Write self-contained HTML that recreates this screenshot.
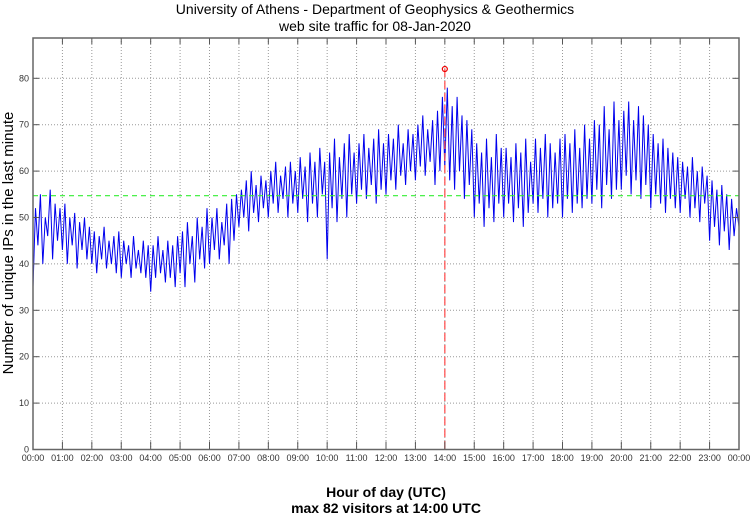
<!DOCTYPE html>
<html><head><meta charset="utf-8"><style>
body{margin:0;background:#fff;}
svg{display:block;font-family:"Liberation Sans",sans-serif;}
</style></head><body>
<svg id="chart" width="750" height="515" viewBox="0 0 750 515">
<text x="375" y="14" text-anchor="middle" font-size="14">University of Athens - Department of Geophysics &amp; Geothermics</text>
<text x="375" y="31" text-anchor="middle" font-size="14">web site traffic for 08-Jan-2020</text>
<text transform="translate(13,243) rotate(-90)" text-anchor="middle" font-size="15">Number of unique IPs in the last minute</text>
<text x="386" y="497" text-anchor="middle" font-size="14" font-weight="bold">Hour of day (UTC)</text>
<text x="386" y="513" text-anchor="middle" font-size="14" font-weight="bold">max 82 visitors at 14:00 UTC</text>
<g id="grid"></g><g id="series"></g><g id="axes"></g>
</svg>
<script>
const hourLabels=["00:00","01:00","02:00","03:00","04:00","05:00","06:00","07:00","08:00","09:00","10:00","11:00","12:00","13:00","14:00","15:00","16:00","17:00","18:00","19:00","20:00","21:00","22:00","23:00","00:00"];
const yTicks=[0,10,20,30,40,50,60,70,80];
const visitors=[
35,52,44,55,40,50,46,56,41,53,45,52,
43,53,40,50,44,51,39,49,43,50,41,48,
40,47,38,46,41,48,39,45,40,46,38,47,
37,45,40,44,37,46,39,43,38,45,37,44,
34,44,37,46,38,43,36,45,37,44,35,46,
38,47,35,49,40,46,36,50,41,48,39,52,
40,50,43,52,41,49,44,53,40,54,45,55,
48,56,50,58,47,60,51,57,49,59,52,58,
50,60,53,62,51,59,54,61,50,62,53,60,
51,63,54,61,49,64,53,62,50,65,55,62,
41,64,52,67,49,63,54,66,50,68,55,64,
53,66,56,68,54,65,57,67,53,69,56,66,
55,68,58,67,56,70,59,66,57,69,60,68,
58,70,61,72,59,69,62,71,57,73,60,76,
61,78,58,74,56,76,60,72,54,71,57,69,
50,66,53,64,48,67,52,63,49,68,53,65,
50,65,53,63,49,66,52,64,48,67,51,62,
53,67,51,65,54,68,50,66,52,64,53,67,
50,68,54,66,51,69,53,65,52,70,54,67,
53,71,56,70,52,74,57,69,54,75,56,71,
56,73,59,75,55,71,58,74,54,72,57,70,
52,68,55,66,53,67,51,65,54,64,52,63,
51,62,54,61,50,63,52,60,49,61,53,59,
45,58,48,56,44,57,47,55,43,54,46,52,48];
const avgValue=[54.7];
const peakValue=[82];
const peakHour=[14];
const X0=33,X1=739,Y0=449.5,YTOP=38;
const xH=h=>X0+(X1-X0)*h/24;
const yV=v=>Y0-v*4.64;
const NS="http://www.w3.org/2000/svg";
function mk(tag,attrs,parent){const e=document.createElementNS(NS,tag);for(const k in attrs)e.setAttribute(k,attrs[k]);parent.appendChild(e);return e;}
const grid=document.getElementById('grid'),axes=document.getElementById('axes'),series=document.getElementById('series');
mk('rect',{x:X0,y:YTOP,width:X1-X0,height:Y0-YTOP,fill:'#fff'},grid);
hourLabels.forEach((l,i)=>{const x=xH(i);
 if(i>0&&i<24){const g=mk('line',{x1:x,x2:x,y1:YTOP,y2:Y0,stroke:'#999','stroke-dasharray':'1,2'},grid);
 
 mk('line',{x1:x,x2:x,y1:YTOP,y2:YTOP+6,stroke:'#555'},axes);mk('line',{x1:x,x2:x,y1:Y0,y2:Y0-8,stroke:'#555'},axes);}
 const t=mk('text',{x:x,y:461,'text-anchor':'middle','font-size':9,fill:'#333'},axes);t.textContent=l;
 });
yTicks.forEach(v=>{const y=yV(v);
 if(v>0){const g=mk('line',{x1:X0,x2:X1,y1:y,y2:y,stroke:'#999','stroke-dasharray':'1,2'},grid);
 
 mk('line',{x1:X0,x2:X0+6,y1:y,y2:y,stroke:'#555'},axes);mk('line',{x1:X1,x2:X1-6,y1:y,y2:y,stroke:'#555'},axes);}
 const t=mk('text',{x:X0-4,y:y+3,'text-anchor':'end','font-size':9,fill:'#333'},axes);t.textContent=v;
 });
const frame=mk('rect',{x:X0,y:YTOP,width:X1-X0,height:Y0-YTOP,fill:'none',stroke:'#666','stroke-width':1.5},axes);

const n=visitors.length;
const pts=visitors.map((v,i)=>xH(24*i/(n-1)).toFixed(1)+','+yV(v).toFixed(1)).join(' ');
const line=mk('polyline',{points:pts,fill:'none',stroke:'#0000ee','stroke-width':1},series);

const avg=mk('line',{x1:X0,x2:X1,y1:yV(avgValue[0]),y2:yV(avgValue[0]),stroke:'#33ee33','stroke-dasharray':'5,4','stroke-width':1.2},series);

const pv=mk('line',{x1:xH(peakHour[0]),x2:xH(peakHour[0]),y1:yV(peakValue[0]),y2:Y0,stroke:'#ff5555','stroke-dasharray':'8,4','stroke-width':1.3},series);

const pm=mk('circle',{cx:xH(peakHour[0]),cy:yV(peakValue[0]),r:2.5,fill:'none',stroke:'#ee0000','stroke-width':1.2},series);

</script>
</body></html>
